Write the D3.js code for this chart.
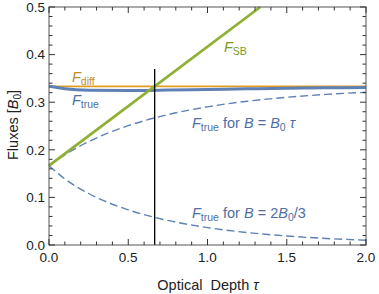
<!DOCTYPE html>
<html><head><meta charset="utf-8">
<script src="https://cdn.jsdelivr.net/npm/d3@7"></script>
<style>body{margin:0;background:#fff}svg{display:block;font-family:"Liberation Sans",Arial,sans-serif}</style>
</head><body><svg id="c" width="379" height="294"></svg>
<script>
const tau = [0, 0.1, 0.25, 0.5, 0.75, 1.0, 1.25, 1.5, 1.75, 2.0];
const fTrueLinear = [0.1667, 0.1895, 0.2171, 0.2507, 0.2739, 0.2903, 0.3020, 0.3103, 0.3164, 0.3208];
const fTrueConst = [0.1667, 0.1388, 0.1082, 0.0739, 0.0516, 0.0366, 0.0262, 0.0189, 0.0137, 0.0100];
const fTrue = [0.3333, 0.3282, 0.3252, 0.3246, 0.3255, 0.3268, 0.3282, 0.3292, 0.3301, 0.3308];
const fDiffTau = [0, 2];
const fDiff = [0.3333, 0.3333];
const fSBTau = [0, 1.3333];
const fSB = [0.1667, 0.5];
const markerTau = 0.6667;
const markerTop = 0.37;
const xTicks = [0, 0.5, 1.0, 1.5, 2.0];
const yTicks = [0, 0.1, 0.2, 0.3, 0.4, 0.5];

const svg = d3.select("#c");
const L = 49, R = 366, T = 7, B = 245;
const x = d3.scaleLinear().domain([0, 2]).range([L, R]);
const y = d3.scaleLinear().domain([0, 0.5]).range([B, T]);

const blue = "#5E81B5", orange = "#E19C24", green = "#8FB032";
const line = d3.line().x(d => x(d[0])).y(d => y(d[1])).curve(d3.curveMonotoneX);
const zip = (a, b) => a.map((v, i) => [v, b[i]]);

const plot = svg.append("g");
plot.append("path").datum(zip(tau, fTrueLinear)).attr("d", line)
  .attr("fill", "none").attr("stroke", blue).attr("stroke-width", 1.4).attr("stroke-dasharray", "8,4");
plot.append("path").datum(zip(tau, fTrueConst)).attr("d", line)
  .attr("fill", "none").attr("stroke", blue).attr("stroke-width", 1.4).attr("stroke-dasharray", "8,4");
plot.append("path").datum(zip(fDiffTau, fDiff)).attr("d", line)
  .attr("fill", "none").attr("stroke", orange).attr("stroke-width", 1.6);
plot.append("path").datum(zip(tau, fTrue)).attr("d", line)
  .attr("fill", "none").attr("stroke", blue).attr("stroke-width", 3);
plot.append("path").datum(zip(fSBTau, fSB)).attr("d", d3.line().x(d => x(d[0])).y(d => y(d[1])))
  .attr("fill", "none").attr("stroke", green).attr("stroke-width", 2.8);
plot.append("line").attr("x1", x(markerTau)).attr("x2", x(markerTau))
  .attr("y1", y(0)).attr("y2", y(markerTop)).attr("stroke", "#000").attr("stroke-width", 1.3);

// frame
const fc = "#555";
svg.append("rect").attr("x", L).attr("y", T).attr("width", R - L).attr("height", B - T)
  .attr("fill", "none").attr("stroke", fc).attr("stroke-width", 1);

// ticks
const tk = svg.append("g").attr("stroke", "#333").attr("stroke-width", 1);
d3.range(0, 2.0001, 0.1).forEach(v => {
  const major = Math.abs(v * 2 - Math.round(v * 2)) < 1e-6;
  const len = major ? 6 : 3.5;
  tk.append("line").attr("x1", x(v)).attr("x2", x(v)).attr("y1", B).attr("y2", B - len);
  tk.append("line").attr("x1", x(v)).attr("x2", x(v)).attr("y1", T).attr("y2", T + len);
});
d3.range(0, 0.5001, 0.02).forEach(v => {
  const major = Math.abs(v * 10 - Math.round(v * 10)) < 1e-6;
  const len = major ? 6 : 3.5;
  tk.append("line").attr("y1", y(v)).attr("y2", y(v)).attr("x1", L).attr("x2", L + len);
  tk.append("line").attr("y1", y(v)).attr("y2", y(v)).attr("x1", R).attr("x2", R - len);
});

const lab = svg.append("g").attr("font-size", 13.5).attr("fill", "#222");
xTicks.forEach(v => lab.append("text").attr("x", x(v)).attr("y", B + 17)
  .attr("text-anchor", "middle").text(d3.format(".1f")(v)));
yTicks.forEach(v => lab.append("text").attr("x", L - 4).attr("y", y(v) + 4.8)
  .attr("text-anchor", "end").text(d3.format(".1f")(v)));

// axis titles
const xt = svg.append("text").attr("x", 208).attr("y", 290).attr("text-anchor", "middle")
  .attr("font-size", 14.5).attr("fill", "#222");
xt.append("tspan").text("Optical\u00A0 Depth ");
xt.append("tspan").attr("font-style", "italic").text("\u03C4");

const yt = svg.append("text").attr("transform", "translate(18,125) rotate(-90)")
  .attr("text-anchor", "middle").attr("font-size", 14.5).attr("fill", "#222");
yt.append("tspan").text("Fluxes [");
yt.append("tspan").attr("font-style", "italic").text("B");
yt.append("tspan").attr("font-size", 10).attr("dy", 3).text("0");
yt.append("tspan").attr("dy", -3).text("]");

function fLabel(px, py, sub, rest, color) {
  const t = svg.append("text").attr("x", px).attr("y", py).attr("font-size", 14.5).attr("fill", color);
  t.append("tspan").attr("font-style", "italic").text("F");
  t.append("tspan").attr("font-size", 10.5).attr("dy", 3).text(sub);
  if (rest) rest(t);
  return t;
}
const labBlue = "#4F6FA3", labOrange = "#C08A2C", labGreen = "#789A2A";
fLabel(72, 82, "diff", null, labOrange);
fLabel(72, 105, "true", null, labBlue);
fLabel(224, 52, "SB", null, labGreen);
fLabel(192, 128, "true", t => {
  t.append("tspan").attr("dy", -3).text(" for ");
  t.append("tspan").attr("font-style", "italic").text("B");
  t.append("tspan").text(" = ");
  t.append("tspan").attr("font-style", "italic").text("B");
  t.append("tspan").attr("font-size", 10.5).attr("dy", 3).text("0");
  t.append("tspan").attr("dy", -3).attr("font-style", "italic").text(" \u03C4");
}, labBlue);
fLabel(192, 218, "true", t => {
  t.append("tspan").attr("dy", -3).text(" for ");
  t.append("tspan").attr("font-style", "italic").text("B");
  t.append("tspan").text(" = 2");
  t.append("tspan").attr("font-style", "italic").text("B");
  t.append("tspan").attr("font-size", 10.5).attr("dy", 3).text("0");
  t.append("tspan").attr("dy", -3).text("/3");
}, labBlue);
</script></body></html>
